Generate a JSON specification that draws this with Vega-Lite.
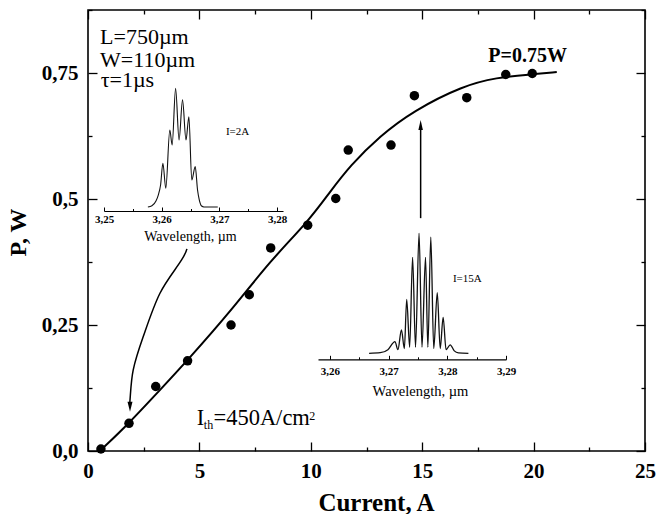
{
  "$schema": "https://vega.github.io/schema/vega-lite/v6.json",
  "width": 557,
  "height": 441,
  "autosize": {"type": "none"},
  "padding": {"left": 88, "top": 10, "right": 13, "bottom": 63},
  "background": "white",
  "config": {
    "font": "Liberation Serif",
    "text": {"font": "Liberation Serif"},
    "view": {"stroke": "#000", "strokeWidth": 1.6},
    "axis": {
      "grid": false,
      "labelFont": "Liberation Serif",
      "titleFont": "Liberation Serif",
      "labelColor": "#000",
      "titleColor": "#000",
      "tickColor": "#000",
      "domainColor": "#000",
      "labelFlush": false,
      "labelOverlap": false
    }
  },
  "datasets": {
    "measured": [
      {"current": 0.58, "power": 0.004},
      {"current": 1.84, "power": 0.055},
      {"current": 3.04, "power": 0.128},
      {"current": 4.47, "power": 0.179},
      {"current": 6.42, "power": 0.25},
      {"current": 7.24, "power": 0.31},
      {"current": 8.2, "power": 0.403},
      {"current": 9.86, "power": 0.448},
      {"current": 11.12, "power": 0.501},
      {"current": 11.68, "power": 0.597},
      {"current": 13.6, "power": 0.607},
      {"current": 14.65, "power": 0.705},
      {"current": 17.0, "power": 0.701},
      {"current": 18.75, "power": 0.747},
      {"current": 19.94, "power": 0.749}
    ],
    "fit": [
      {"current": 0.58, "power": 0.002},
      {"current": 1.84, "power": 0.055},
      {"current": 3.1, "power": 0.115},
      {"current": 4.47, "power": 0.18},
      {"current": 6.51, "power": 0.283},
      {"current": 8.17, "power": 0.377},
      {"current": 9.86, "power": 0.454},
      {"current": 10.86, "power": 0.514},
      {"current": 11.76, "power": 0.566},
      {"current": 13.1, "power": 0.625},
      {"current": 14.6, "power": 0.675},
      {"current": 16.84, "power": 0.725},
      {"current": 18.34, "power": 0.741},
      {"current": 19.84, "power": 0.747},
      {"current": 21.04, "power": 0.752}
    ],
    "arrowPath": [
      {"seq": 1, "current": 4.44, "power": 0.401},
      {"seq": 2, "current": 4.2, "power": 0.379},
      {"seq": 3, "current": 3.23, "power": 0.313},
      {"seq": 4, "current": 2.48, "power": 0.227},
      {"seq": 5, "current": 2.03, "power": 0.161},
      {"seq": 6, "current": 1.885, "power": 0.101},
      {"seq": 7, "current": 1.885, "power": 0.086}
    ],
    "arrowShaft": [{"current": 14.93, "power": 0.462, "power_end": 0.645}],
    "headUp": [{"current": 14.93, "power": 0.647}],
    "headDown": [{"current": 1.885, "power": 0.088}],
    "paramText": [
      {"current": 0.54, "power": 0.807, "text": "L=750µm"},
      {"current": 0.54, "power": 0.7625, "text": "W=110µm"},
      {"current": 0.57, "power": 0.7216, "text": "τ=1µs"}
    ],
    "thresholdText": [
      {"current": 4.88, "power": 0.0516, "text": "I"},
      {"current": 5.63, "power": 0.0516, "text": "=450A/cm"}
    ],
    "scriptText": [
      {"current": 5.2, "power": 0.0437, "text": "th"},
      {"current": 9.93, "power": 0.0625, "text": "2"}
    ],
    "peakText": [{"current": 19.73, "power": 0.772, "text": "P=0.75W"}],
    "insetText": [
      {"current": 6.19, "power": 0.627, "text": "I=2A"},
      {"current": 16.38, "power": 0.335, "text": "I=15A"}
    ],
    "spectrum2A": [
      {"wavelength": 3.2576, "intensity": 0.0},
      {"wavelength": 3.2583, "intensity": 0.01},
      {"wavelength": 3.259, "intensity": 0.05},
      {"wavelength": 3.2594, "intensity": 0.1},
      {"wavelength": 3.2598, "intensity": 0.185},
      {"wavelength": 3.2602, "intensity": 0.367},
      {"wavelength": 3.2607, "intensity": 0.157},
      {"wavelength": 3.2614, "intensity": 0.647},
      {"wavelength": 3.2618, "intensity": 0.521},
      {"wavelength": 3.2624, "intensity": 0.997},
      {"wavelength": 3.263, "intensity": 0.563},
      {"wavelength": 3.2636, "intensity": 0.9},
      {"wavelength": 3.2642, "intensity": 0.563},
      {"wavelength": 3.2647, "intensity": 0.759},
      {"wavelength": 3.2652, "intensity": 0.227},
      {"wavelength": 3.2658, "intensity": 0.339},
      {"wavelength": 3.2662, "intensity": 0.143},
      {"wavelength": 3.2665, "intensity": 0.06},
      {"wavelength": 3.2669, "intensity": 0.008},
      {"wavelength": 3.2673, "intensity": 0.0},
      {"wavelength": 3.2697, "intensity": 0.0}
    ],
    "spectrum15A": [
      {"wavelength": 3.2667, "intensity": 0.0},
      {"wavelength": 3.2686, "intensity": 0.005},
      {"wavelength": 3.2699, "intensity": 0.03},
      {"wavelength": 3.2711, "intensity": 0.097},
      {"wavelength": 3.2716, "intensity": 0.03},
      {"wavelength": 3.2722, "intensity": 0.194},
      {"wavelength": 3.2727, "intensity": 0.04},
      {"wavelength": 3.2731, "intensity": 0.45},
      {"wavelength": 3.2736, "intensity": 0.05},
      {"wavelength": 3.2741, "intensity": 0.8},
      {"wavelength": 3.2746, "intensity": 0.05},
      {"wavelength": 3.2752, "intensity": 1.0},
      {"wavelength": 3.2757, "intensity": 0.05},
      {"wavelength": 3.2763, "intensity": 0.8},
      {"wavelength": 3.2767, "intensity": 0.05},
      {"wavelength": 3.2772, "intensity": 0.967},
      {"wavelength": 3.2777, "intensity": 0.04},
      {"wavelength": 3.2783, "intensity": 0.505},
      {"wavelength": 3.2788, "intensity": 0.04},
      {"wavelength": 3.2793, "intensity": 0.3},
      {"wavelength": 3.2798, "intensity": 0.03},
      {"wavelength": 3.2805, "intensity": 0.07},
      {"wavelength": 3.2812, "intensity": 0.02},
      {"wavelength": 3.2819, "intensity": 0.003},
      {"wavelength": 3.2836, "intensity": 0.0}
    ]
  },
  "layer": [
    {
      "layer": [
        {
          "data": {"name": "fit"},
          "mark": {"type": "line", "interpolate": "basis", "color": "#000", "strokeWidth": 2},
          "encoding": {
            "x": {
              "field": "current",
              "type": "quantitative",
              "scale": {"domain": [0, 25], "nice": false, "zero": false},
              "axis": {
                "orient": "bottom",
                "values": [0, 2.5, 5, 7.5, 10, 12.5, 15, 17.5, 20, 22.5, 25],
                "domain": false,
                "tickWidth": 1.3,
                "tickSize": {"condition": {"test": "datum.value % 5 === 0", "value": -9}, "value": -4},
                "labelExpr": "datum.value % 5 === 0 ? datum.label : ''",
                "labelFontSize": 21,
                "labelFontWeight": "bold",
                "labelPadding": 18.5,
                "title": "Current, A",
                "titleFontSize": 25,
                "titleFontWeight": "bold",
                "titleX": 288,
                "titleY": 59,
                "titleAlign": "center",
                "titleBaseline": "alphabetic"
              }
            },
            "y": {
              "field": "power",
              "type": "quantitative",
              "scale": {"domain": [0, 0.875], "nice": false, "zero": false},
              "axis": {
                "orient": "left",
                "values": [0, 0.125, 0.25, 0.375, 0.5, 0.625, 0.75, 0.875],
                "domain": false,
                "tickWidth": 1.3,
                "tickSize": {"condition": {"test": "abs(datum.value*4 - round(datum.value*4)) < 1e-6", "value": -9}, "value": -4},
                "labelExpr": "abs(datum.value*4 - round(datum.value*4)) < 1e-6 && datum.value < 0.8 ? (datum.value === 0 ? '0,0' : replace(format(datum.value, '.2~f'), '.', ',')) : ''",
                "labelFontSize": 21,
                "labelFontWeight": "bold",
                "labelPadding": 19,
                "title": "P, W",
                "titleFontSize": 24,
                "titleFontWeight": "bold",
                "titleAngle": -90,
                "titleX": -63,
                "titleY": 222,
                "titleAlign": "center",
                "titleBaseline": "alphabetic"
              }
            }
          }
        },
        {
          "data": {"name": "measured"},
          "mark": {"type": "point", "filled": true, "color": "#000", "opacity": 1, "size": 90, "strokeWidth": 0},
          "encoding": {
            "x": {"field": "current", "type": "quantitative"},
            "y": {"field": "power", "type": "quantitative"}
          }
        },
        {
          "data": {"name": "arrowPath"},
          "mark": {"type": "line", "interpolate": "cardinal", "color": "#000", "strokeWidth": 1.5},
          "encoding": {
            "x": {"field": "current", "type": "quantitative"},
            "y": {"field": "power", "type": "quantitative"},
            "order": {"field": "seq", "type": "quantitative"}
          }
        },
        {
          "data": {"name": "arrowShaft"},
          "mark": {"type": "rule", "color": "#000", "strokeWidth": 1.5},
          "encoding": {
            "x": {"field": "current", "type": "quantitative"},
            "y": {"field": "power", "type": "quantitative"},
            "y2": {"field": "power_end"}
          }
        },
        {
          "data": {"name": "headUp"},
          "mark": {"type": "point", "shape": "M0,-1L0.45,1L-0.45,1Z", "filled": true, "color": "#000", "opacity": 1, "size": 100, "strokeWidth": 0},
          "encoding": {
            "x": {"field": "current", "type": "quantitative"},
            "y": {"field": "power", "type": "quantitative"}
          }
        },
        {
          "data": {"name": "headDown"},
          "mark": {"type": "point", "shape": "M0,1L0.5,-1L-0.5,-1Z", "filled": true, "color": "#000", "opacity": 1, "size": 100, "strokeWidth": 0},
          "encoding": {
            "x": {"field": "current", "type": "quantitative"},
            "y": {"field": "power", "type": "quantitative"}
          }
        },
        {
          "data": {"name": "paramText"},
          "mark": {"type": "text", "font": "Liberation Serif", "align": "left", "baseline": "alphabetic", "fontSize": 22, "color": "#000"},
          "encoding": {
            "x": {"field": "current", "type": "quantitative"},
            "y": {"field": "power", "type": "quantitative"},
            "text": {"field": "text"}
          }
        },
        {
          "data": {"name": "thresholdText"},
          "mark": {"type": "text", "font": "Liberation Serif", "align": "left", "baseline": "alphabetic", "fontSize": 22.5, "color": "#000"},
          "encoding": {
            "x": {"field": "current", "type": "quantitative"},
            "y": {"field": "power", "type": "quantitative"},
            "text": {"field": "text"}
          }
        },
        {
          "data": {"name": "scriptText"},
          "mark": {"type": "text", "font": "Liberation Serif", "align": "left", "baseline": "alphabetic", "fontSize": 12, "color": "#000"},
          "encoding": {
            "x": {"field": "current", "type": "quantitative"},
            "y": {"field": "power", "type": "quantitative"},
            "text": {"field": "text"}
          }
        },
        {
          "data": {"name": "peakText"},
          "mark": {"type": "text", "font": "Liberation Serif", "align": "center", "baseline": "alphabetic", "fontSize": 20, "fontWeight": "bold", "color": "#000"},
          "encoding": {
            "x": {"field": "current", "type": "quantitative"},
            "y": {"field": "power", "type": "quantitative"},
            "text": {"field": "text"}
          }
        },
        {
          "data": {"name": "insetText"},
          "mark": {"type": "text", "font": "Liberation Serif", "align": "left", "baseline": "alphabetic", "fontSize": 11, "color": "#000"},
          "encoding": {
            "x": {"field": "current", "type": "quantitative"},
            "y": {"field": "power", "type": "quantitative"},
            "text": {"field": "text"}
          }
        }
      ]
    },
    {
      "data": {"name": "measured"},
      "mark": {"type": "point", "opacity": 0},
      "encoding": {
        "x": {
          "field": "current",
          "type": "quantitative",
          "scale": {"domain": [0, 25], "nice": false, "zero": false},
          "axis": {
            "orient": "top",
            "values": [0, 2.5, 5, 7.5, 10, 12.5, 15, 17.5, 20, 22.5, 25],
            "domain": false,
            "labels": false,
            "title": null,
            "tickWidth": 1.3,
            "tickSize": {"condition": {"test": "datum.value % 5 === 0", "value": -9}, "value": -4}
          }
        },
        "y": {
          "field": "power",
          "type": "quantitative",
          "scale": {"domain": [0, 0.875], "nice": false, "zero": false},
          "axis": {
            "orient": "right",
            "values": [0, 0.125, 0.25, 0.375, 0.5, 0.625, 0.75, 0.875],
            "domain": false,
            "labels": false,
            "title": null,
            "tickWidth": 1.3,
            "tickSize": {"condition": {"test": "abs(datum.value*4 - round(datum.value*4)) < 1e-6", "value": -9}, "value": -4}
          }
        }
      }
    },
    {
      "data": {"name": "spectrum2A"},
      "mark": {"type": "line", "interpolate": "monotone", "color": "#111", "strokeWidth": 1.1},
      "encoding": {
        "x": {
          "field": "wavelength",
          "type": "quantitative",
          "scale": {"domain": [3.25, 3.281], "range": [16, 195], "nice": false, "zero": false},
          "axis": {
            "orient": "bottom",
            "offset": -240,
            "values": [3.25, 3.255, 3.26, 3.265, 3.27, 3.275, 3.28],
            "domain": true,
            "domainWidth": 1.2,
            "tickWidth": 1,
            "tickSize": {"condition": {"test": "abs(datum.value*100 - round(datum.value*100)) < 1e-6", "value": -4}, "value": -2.5},
            "labelExpr": "abs(datum.value*100 - round(datum.value*100)) < 1e-6 ? replace(format(datum.value, '.2f'), '.', ',') : ''",
            "labelFontSize": 11,
            "labelFontWeight": "bold",
            "labelPadding": 6.75,
            "title": "Wavelength, µm",
            "titleFontSize": 14,
            "titleFontWeight": "normal",
            "titleX": 102,
            "titleY": 29.7,
            "titleAlign": "center",
            "titleBaseline": "alphabetic"
          }
        },
        "y": {
          "field": "intensity",
          "type": "quantitative",
          "scale": {"domain": [0, 1], "range": [197, 78], "nice": false, "zero": false},
          "axis": null
        }
      }
    },
    {
      "data": {"name": "spectrum15A"},
      "mark": {"type": "line", "interpolate": "monotone", "color": "#111", "strokeWidth": 1.3},
      "encoding": {
        "x": {
          "field": "wavelength",
          "type": "quantitative",
          "scale": {"domain": [3.258, 3.29], "range": [230, 418], "nice": false, "zero": false},
          "axis": {
            "orient": "bottom",
            "offset": -91.7,
            "values": [3.26, 3.265, 3.27, 3.275, 3.28, 3.285, 3.29],
            "domain": true,
            "domainWidth": 1.2,
            "tickWidth": 1,
            "tickSize": {"condition": {"test": "abs(datum.value*100 - round(datum.value*100)) < 1e-6", "value": -4}, "value": -2.5},
            "labelExpr": "abs(datum.value*100 - round(datum.value*100)) < 1e-6 ? replace(format(datum.value, '.2f'), '.', ',') : ''",
            "labelFontSize": 11,
            "labelFontWeight": "bold",
            "labelPadding": 10,
            "title": "Wavelength, µm",
            "titleFontSize": 14.5,
            "titleFontWeight": "normal",
            "titleX": 332,
            "titleY": 35.7,
            "titleAlign": "center",
            "titleBaseline": "alphabetic"
          }
        },
        "y": {
          "field": "intensity",
          "type": "quantitative",
          "scale": {"domain": [0, 1], "range": [343.3, 223.3], "nice": false, "zero": false},
          "axis": null
        }
      }
    }
  ],
  "resolve": {
    "scale": {"x": "independent", "y": "independent"},
    "axis": {"x": "independent", "y": "independent"}
  }
}
